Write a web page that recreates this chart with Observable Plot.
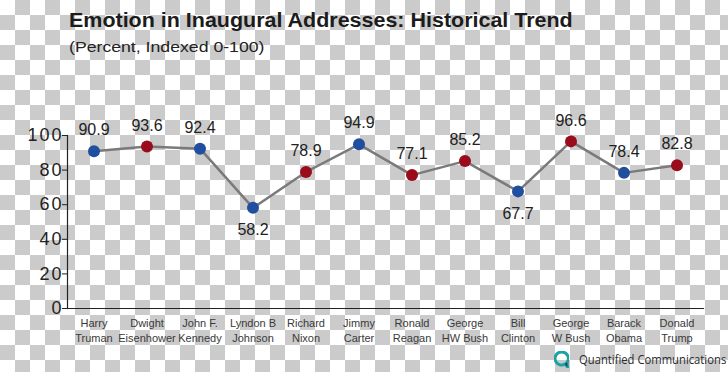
<!DOCTYPE html>
<html>
<head>
<meta charset="utf-8">
<script src="https://cdn.jsdelivr.net/npm/d3@7"></script>
<script src="https://cdn.jsdelivr.net/npm/@observablehq/plot@0.6"></script>
<style>
  html, body { margin: 0; padding: 0; }
  body {
    width: 728px; height: 372px; position: relative; overflow: hidden;
    background: repeating-conic-gradient(#cbcbcb 0 25%, #ffffff 0 50%) 0 0 / 30px 30px;
    font-family: "Liberation Sans", Arial, sans-serif;
  }
  #title { position: absolute; left: 69px; top: 8px; font-size: 20.5px; font-weight: bold; color: #1c1c1c; white-space: nowrap; transform: scaleX(1.047); transform-origin: left top; }
  #subtitle { position: absolute; left: 69px; top: 38px; font-size: 15.5px; color: #222; white-space: nowrap; transform: scaleX(1.14); transform-origin: left top; }
  #chart { position: absolute; left: 0; top: 60px; }
  #logo { position: absolute; left: 554px; top: 351px; display: flex; align-items: center; white-space: nowrap; }
  #logo span { font-family: "Open Sans", sans-serif; font-size: 12.5px; color: #2a2a2a; margin-left: 10px; display: inline-block; transform: scaleX(0.9); transform-origin: left center; }
</style>
</head>
<body>
<div id="title">Emotion in Inaugural Addresses: Historical Trend</div>
<div id="subtitle">(Percent, Indexed 0-100)</div>
<div id="chart"></div>
<div id="logo">
  <svg width="15" height="17" viewBox="0 0 15 17">
    <path d="M7.5 1 A6.5 6.5 0 1 0 11 13 L13.5 16 L13 11.5 A6.5 6.5 0 0 0 7.5 1 Z" fill="none" stroke="#1aa3a3" stroke-width="3"/>
    <path d="M11 13 L13.5 16 L13 11.5" fill="#1b2f5a"/>
  </svg>
  <span>Quantified Communications</span>
</div>
<script>
const presidents = ["Harry\nTruman", "Dwight\nEisenhower", "John F.\nKennedy", "Lyndon B\nJohnson", "Richard\nNixon", "Jimmy\nCarter", "Ronald\nReagan", "George\nHW Bush", "Bill\nClinton", "George\nW Bush", "Barack\nObama", "Donald\nTrump"];
const emotion = [90.9, 93.6, 92.4, 58.2, 78.9, 94.9, 77.1, 85.2, 67.7, 96.6, 78.4, 82.8];
const party = ["D", "R", "D", "D", "R", "D", "R", "R", "D", "R", "D", "R"];
const labelBelow = [false, false, false, true, false, false, false, false, true, false, false, false];
const yTicks = [0, 20, 40, 60, 80, 100];

const data = presidents.map((p, i) => ({p, v: emotion[i], party: party[i], below: labelBelow[i]}));

const chart = Plot.plot({
  width: 728,
  height: 285,
  marginLeft: 67,
  marginRight: 25,
  marginTop: 75,
  marginBottom: 37,
  style: {background: "transparent", fontFamily: "'Liberation Sans', Arial, sans-serif", overflow: "visible"},
  x: {type: "band", domain: presidents, padding: 0, label: null},
  y: {domain: [0, 100], label: null},
  color: {domain: ["D", "R"], range: ["#1f4f9e", "#9a0b1c"]},
  marks: [
    Plot.frame({anchor: "left", stroke: "#222", strokeWidth: 1.2}),
    Plot.frame({anchor: "bottom", stroke: "#222", strokeWidth: 1.2}),
    Plot.axisY({ticks: yTicks, tickSize: 5, tickPadding: -1, fontSize: 18, color: "#222", stroke: "#222", label: null}),
    Plot.axisX({tickSize: 0, tickPadding: 8, fontSize: 11, color: "#3a3a3a", label: null, lineHeight: 1.35}),
    Plot.line(data, {x: "p", y: "v", stroke: "#7a7a7a", strokeWidth: 2.5}),
    Plot.dot(data, {x: "p", y: "v", fill: "party", r: 6, stroke: null}),
    Plot.text(data.filter(d => !d.below), {x: "p", y: "v", text: d => d.v.toFixed(1), dy: -21, fontSize: 16, fill: "#222"}),
    Plot.text(data.filter(d => d.below), {x: "p", y: "v", text: d => d.v.toFixed(1), dy: 22, fontSize: 16, fill: "#222"})
  ]
});
d3.select(chart).selectAll("g[aria-label='y-axis tick label'] text").style("letter-spacing", "2px");
document.getElementById("chart").appendChild(chart);
</script>
</body>
</html>
